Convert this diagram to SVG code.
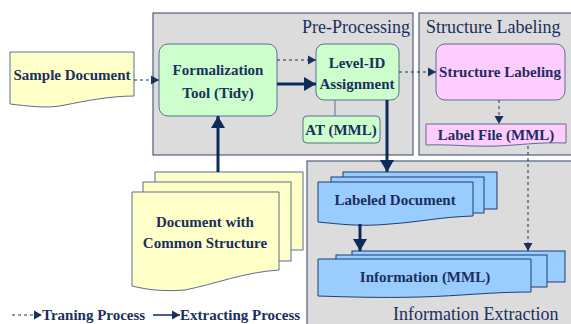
<svg xmlns="http://www.w3.org/2000/svg" width="571" height="324" viewBox="0 0 571 324">
<defs>
<style>
.grp{fill:#dcdcdc;stroke:#4e5f7e;stroke-width:1.2}
.ttl{font-family:'Liberation Serif','Times New Roman','DejaVu Serif',serif;font-size:18px;fill:#1a2f5c}
.lbl{font-family:'Liberation Serif','Times New Roman','DejaVu Serif',serif;font-size:15px;font-weight:bold;fill:#1a2f5c;text-anchor:middle}
.yel{fill:#ffffc8;stroke:#5a6f8f;stroke-width:1}
.grn{fill:#ccffcc;stroke:#5a6f8f;stroke-width:1}
.pnk{fill:#ffccff;stroke:#5a6f8f;stroke-width:1}
.blu{fill:#99ccff;stroke:#1f3f6f;stroke-width:1}
.dash{stroke:#1a2f5c;stroke-width:1;stroke-dasharray:3,3;fill:none}
.solid{stroke:#0d2b5a;stroke-width:3;fill:none}
.thin{stroke:#5a6f8f;stroke-width:1;fill:none}
</style>
<marker id="ad" markerUnits="userSpaceOnUse" markerWidth="10" markerHeight="10" refX="8" refY="5" orient="auto"><path d="M0,0.5 L8,5 L0,9.5 Z" fill="#1a2f5c"/></marker>
<marker id="as" markerUnits="userSpaceOnUse" markerWidth="14" markerHeight="14" refX="12" refY="7" orient="auto"><path d="M0,0 L12,7 L0,14 Z" fill="#0d2b5a"/></marker>
</defs>
<g id="pre-processing">
<rect class="grp" x="153" y="13" width="260" height="142"/>
<text class="ttl" x="410" y="33" text-anchor="end">Pre-Processing</text>
</g>
<g id="structure-labeling-group">
<rect class="grp" x="419" y="13" width="160" height="142"/>
<text class="ttl" x="426" y="33">Structure Labeling</text>
</g>
<g id="information-extraction">
<rect class="grp" x="307" y="161" width="272" height="170"/>
<text class="ttl" x="393" y="320">Information Extraction</text>
</g>
<g id="sample-document">
<path class="yel" d="M10,52 H134 V96 C110,96 85,101 65,105 C48,109 28,106 10,104 Z"/>
<text class="lbl" x="72" y="80">Sample Document</text>
</g>
<g id="formalization-tool">
<rect class="grn" x="159" y="44" width="118" height="72" rx="9"/>
<text class="lbl" x="218" y="75">Formalization</text>
<text class="lbl" x="218" y="98">Tool (Tidy)</text>
</g>
<g id="level-id-assignment">
<rect class="grn" x="316" y="44" width="83" height="56" rx="8"/>
<text class="lbl" x="357" y="68">Level-ID</text>
<text class="lbl" x="357" y="89">Assignment</text>
</g>
<g id="at-mml">
<path class="thin" d="M335,100 V116"/>
<rect class="grn" x="303" y="116" width="77" height="27" rx="4"/>
<text class="lbl" x="341" y="135">AT (MML)</text>
</g>
<g id="structure-labeling">
<rect class="pnk" x="436" y="44" width="129" height="56" rx="9"/>
<text class="lbl" x="500" y="77">Structure Labeling</text>
</g>
<g id="label-file">
<path class="pnk" d="M426,124 H566 V143 C540,142 520,145 498,146 C470,147 450,144 426,145 Z"/>
<text class="lbl" x="496" y="140">Label File (MML)</text>
</g>
<g id="document-common-structure">
<rect class="yel" x="155" y="172" width="148" height="78"/>
<rect class="yel" x="143" y="182" width="148" height="79"/>
<path class="yel" d="M132,192 H279 V270 C245,272 215,284 185,290 C160,292 145,289 132,286 Z"/>
<text class="lbl" x="205" y="227">Document with</text>
<text class="lbl" x="205" y="248">Common Structure</text>
</g>
<g id="labeled-document">
<rect class="blu" x="343" y="172" width="154" height="37"/>
<rect class="blu" x="331" y="177" width="153" height="36"/>
<path class="blu" d="M318,182 H473 V216 C440,217 420,222 390,224 C360,227 340,224 318,222 Z"/>
<text class="lbl" x="395" y="205">Labeled Document</text>
</g>
<g id="information-mml">
<rect class="blu" x="352" y="251" width="213" height="31"/>
<rect class="blu" x="336" y="255" width="211" height="32"/>
<path class="blu" d="M318,259 H531 V292 C490,292 460,296 420,297 C380,298 350,297 318,296 Z"/>
<text class="lbl" x="425" y="282">Information (MML)</text>
</g>
<g id="connectors">
<path class="dash" d="M134,80 H159" marker-end="url(#ad)"/>
<path class="dash" d="M277,60 H316" marker-end="url(#ad)"/>
<path class="solid" d="M277,84 H316" marker-end="url(#as)"/>
<path class="dash" d="M399,72 H436" marker-end="url(#ad)"/>
<path class="dash" d="M499,100 V124" marker-end="url(#ad)"/>
<path class="solid" d="M387,100 V172" marker-end="url(#as)"/>
<path class="dash" d="M528,146 V251" marker-end="url(#ad)"/>
<path class="solid" d="M360,224 V251" marker-end="url(#as)"/>
<path class="solid" d="M218,172 V116" marker-end="url(#as)"/>
</g>
<g id="legend">
<path class="dash" d="M12,315 H42" marker-end="url(#ad)"/>
<text class="lbl" x="42" y="320" style="text-anchor:start">Traning Process</text>
<path class="solid" style="stroke-width:1.5" d="M153,315 H180" marker-end="url(#ad)"/>
<text class="lbl" x="180" y="320" style="text-anchor:start">Extracting Process</text>
</g>
</svg>
